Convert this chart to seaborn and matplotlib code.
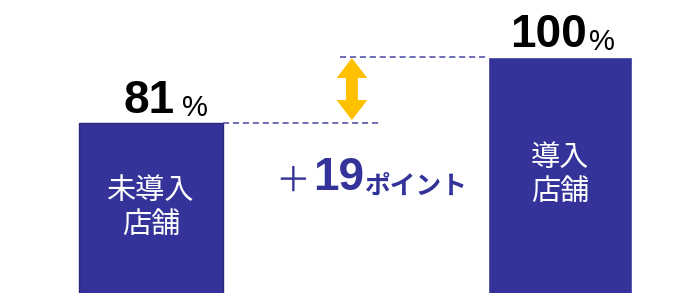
import matplotlib
matplotlib.use("Agg")
import matplotlib.pyplot as plt
import seaborn as sns
import pandas as pd

# ---- data ----
categories = ["未導入店舗", "導入店舗"]
bar_labels = ["未導入\n店舗", "導入\n店舗"]
values = [81, 100]
diff_value = values[1] - values[0]
diff_unit = "ポイント"
pct_sign = "%"

# ---- style ----
BAR_COLOR = "#333399"
ARROW_COLOR = "#FFC000"
JP = ["Noto Sans CJK JP", "DejaVu Sans"]
NUM = ["Liberation Sans", "DejaVu Sans"]

sns.set_theme(style="white")
plt.rcParams["font.family"] = JP

fig = plt.figure(figsize=(6.83, 2.93), dpi=100)
ax = fig.add_axes([0, 0, 1, 1])

df = pd.DataFrame({"cat": categories, "val": values})
sns.barplot(data=df, x="cat", y="val", hue="cat", palette=[BAR_COLOR] * 2,
            legend=False, width=0.352, saturation=1, ax=ax)

ymin, ymax = 32, 116.4
ax.set_ylim(ymin, ymax)
ax.set_xlim(-0.369, 1.30)
ax.axis("off")

patches = ax.patches
patches[0].set_edgecolor("#28287a")
patches[0].set_linewidth(1.0)

# value labels
num_dx = [-2, -12]
pct_gap = [5, 2]
for i, (v, p) in enumerate(zip(values, patches)):
    cx = p.get_x() + p.get_width() / 2
    t = ax.annotate(f"{v}", xy=(cx, v), xytext=(num_dx[i] * 0.72, 7.0),
                    textcoords="offset points", ha="center", va="baseline",
                    fontsize=33, fontweight="bold", family=NUM, color="black")
    ax.annotate(pct_sign, xy=(1, 0), xycoords=t, xytext=(pct_gap[i], 0.8),
                textcoords="offset points", ha="left", va="bottom",
                fontsize=21, family=NUM, color="black")
    ax.text(cx, (v + ymin) / 2, bar_labels[i], ha="center", va="center",
            color="white", fontsize=21, linespacing=1.15, family=JP)

# dashed reference lines
left_edge = patches[1].get_x()
right_edge = patches[0].get_x() + patches[0].get_width()
ax.plot([right_edge, 0.565], [values[0]] * 2, ls=(0, (4, 2.5)), lw=1.1, color="#4646a6")
ax.plot([0.462, left_edge], [values[1]] * 2, ls=(0, (4, 2.5)), lw=1.1, color="#4646a6")

# double-headed arrow
ax_x = 0.491
mid = (values[0] + values[1]) / 2
astyle = "simple,head_length=0.72,head_width=1.1,tail_width=0.43"
for end in (values[1] - 0.3, values[0] + 0.8):
    ax.annotate("", xy=(ax_x, end), xytext=(ax_x, mid),
                arrowprops=dict(arrowstyle=astyle, color=ARROW_COLOR, lw=0,
                                shrinkA=0, shrinkB=0, mutation_scale=20))

# difference text
t19 = ax.text(0.396, 61.7, f"{diff_value}", ha="left", va="baseline",
              fontsize=33, fontweight="bold", family=NUM, color=BAR_COLOR)
ax.annotate("＋", xy=(0, 0), xycoords=t19, xytext=(-2, 0),
            textcoords="offset points", ha="right", va="bottom",
            fontsize=25, family=JP, color=BAR_COLOR)
ax.annotate(diff_unit, xy=(1, 0), xycoords=t19, xytext=(1, 0),
            textcoords="offset points", ha="left", va="bottom",
            fontsize=18.5, fontweight="bold", family=JP, color=BAR_COLOR)

fig.savefig("out.png", dpi=100)
